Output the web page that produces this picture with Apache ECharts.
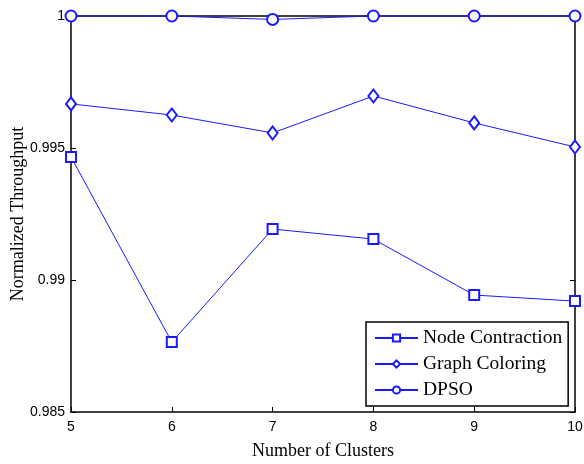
<!DOCTYPE html>
<html>
<head>
<meta charset="utf-8">
<script src="https://cdn.jsdelivr.net/npm/echarts@6/dist/echarts.min.js"></script>
<style>
  html, body { margin: 0; padding: 0; background: #fff; }
  #chart { width: 584px; height: 464px; }
</style>
</head>
<body>
<div id="chart"></div>
<script>
// Normalized throughput vs. number of clusters for three partitioning methods
const clusters = [5, 6, 7, 8, 9, 10];
const nodeContraction = [0.99466, 0.98765, 0.99193, 0.99155, 0.98943, 0.9892];
const graphColoring   = [0.99667, 0.99625, 0.99557, 0.99697, 0.99595, 0.99504];
const dpso            = [1.0, 1.0, 0.99987, 1.0, 1.0, 1.0];
const seriesNames = ['Node Contraction', 'Graph Coloring', 'DPSO'];
const yTicks = { min: 0.985, max: 1.0, step: 0.005 };
const xTicks = { min: 5, max: 10, step: 1 };

const blue = '#1a1aff';
const serif = '"Liberation Serif", "Times New Roman", serif';
const sans = '"Liberation Sans", Arial, sans-serif';

const pairs = ys => clusters.map((x, i) => [x, ys[i]]);

const baseAxisLine = { show: true, lineStyle: { color: '#000', width: 1.5 } };
const baseTick = { show: true, inside: true, length: 5, lineStyle: { color: '#000', width: 1 } };

const chart = echarts.init(document.getElementById('chart'), null, { renderer: 'canvas' });
chart.setOption({
  animation: false,
  backgroundColor: '#fff',
  grid: { left: 71, right: 9, top: 16, bottom: 52, containLabel: false, outerBoundsMode: 'none' },
  xAxis: [
    {
      type: 'value', position: 'bottom',
      min: xTicks.min, max: xTicks.max, interval: xTicks.step,
      axisLine: baseAxisLine, axisTick: baseTick, splitLine: { show: false },
      axisLabel: { color: '#000', fontFamily: sans, fontSize: 14, margin: 8 },
      name: 'Number of Clusters', nameLocation: 'middle', nameGap: 30, nameMoveOverlap: false,
      nameTextStyle: { color: '#000', fontFamily: serif, fontSize: 18 }
    },
    {
      type: 'value', position: 'top',
      min: xTicks.min, max: xTicks.max, interval: xTicks.step,
      axisLine: baseAxisLine, axisTick: baseTick, splitLine: { show: false },
      axisLabel: { show: false }
    }
  ],
  yAxis: [
    {
      type: 'value', position: 'left',
      min: yTicks.min, max: yTicks.max, interval: yTicks.step,
      axisLine: baseAxisLine, axisTick: baseTick, splitLine: { show: false },
      axisLabel: {
        color: '#000', fontFamily: sans, fontSize: 14, margin: 6,
        formatter: v => String(+v.toFixed(3))
      },
      name: 'Normalized Throughput', nameLocation: 'middle', nameGap: 44, nameMoveOverlap: false,
      nameTextStyle: { color: '#000', fontFamily: serif, fontSize: 18 }
    },
    {
      type: 'value', position: 'right',
      min: yTicks.min, max: yTicks.max, interval: yTicks.step,
      axisLine: baseAxisLine, axisTick: baseTick, splitLine: { show: false },
      axisLabel: { show: false }
    }
  ],
  legend: {
    orient: 'vertical',
    left: 366, top: 322,
    padding: [6, 6, 6, 8],
    itemGap: 6,
    itemWidth: 43, itemHeight: 9,
    borderColor: '#000', borderWidth: 1.5,
    backgroundColor: '#fff',
    textStyle: { color: '#000', fontFamily: serif, fontSize: 19.5 },
    data: seriesNames
  },
  series: [
    {
      name: seriesNames[0], type: 'line', data: pairs(nodeContraction),
      symbol: 'emptyRect', symbolSize: 10, clip: false,
      lineStyle: { color: blue, width: 1 }, itemStyle: { color: blue, borderWidth: 0.8 }
    },
    {
      name: seriesNames[1], type: 'line', data: pairs(graphColoring),
      symbol: 'emptyDiamond', symbolSize: [10, 13], clip: false,
      lineStyle: { color: blue, width: 1 }, itemStyle: { color: blue, borderWidth: 0.8 }
    },
    {
      name: seriesNames[2], type: 'line', data: pairs(dpso),
      symbol: 'emptyCircle', symbolSize: 11, clip: false,
      lineStyle: { color: blue, width: 1 }, itemStyle: { color: blue, borderWidth: 0.8 }
    }
  ]
});
</script>
</body>
</html>
